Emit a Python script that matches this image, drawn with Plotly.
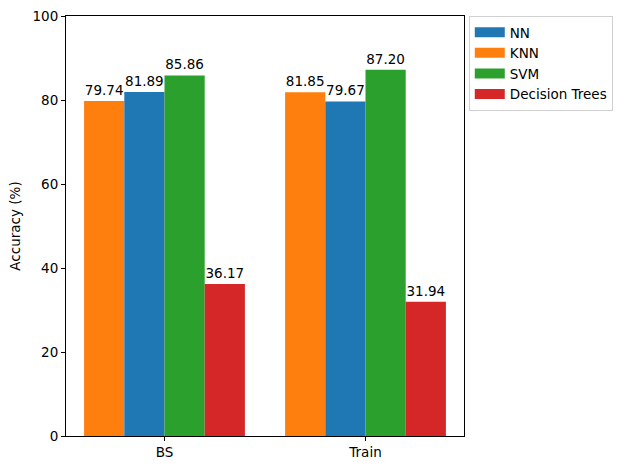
import plotly.graph_objects as go

categories = ["BS", "Train"]
nn = [81.89, 79.67]
knn = [79.74, 81.85]
svm = [85.86, 87.20]
dt = [36.17, 31.94]
y_ticks = [0, 20, 40, 60, 80, 100]

font = "DejaVu Sans"
fs = 13.5
series = [
    ("KNN", knn, "#ff7f0e", 2),
    ("NN", nn, "#1f77b4", 1),
    ("SVM", svm, "#2ca02c", 3),
    ("Decision Trees", dt, "#d62728", 4),
]

fig = go.Figure()
for name, vals, color, rank in series:
    fig.add_trace(go.Bar(
        x=categories, y=vals, name=name, marker_color=color, marker_line_width=0,
        text=[f"{v:.2f}" for v in vals], textposition="outside", cliponaxis=False,
        textfont=dict(family=font, size=fs, color="black"), showlegend=False,
    ))
for name, vals, color, rank in series:
    fig.add_trace(go.Scatter(
        x=[None], y=[None], mode="lines", name=name,
        line=dict(color=color, width=10), legendrank=rank, showlegend=True,
    ))

fig.update_layout(
    width=629, height=470, barmode="group", bargap=0.2, bargroupgap=0,
    plot_bgcolor="white", paper_bgcolor="white",
    margin=dict(l=66, r=165, t=16, b=34, autoexpand=False),
    font=dict(family=font, size=fs, color="black"),
    legend=dict(x=1.012, y=1, xanchor="left", yanchor="top",
                bordercolor="#d0d0d0", borderwidth=1, font=dict(size=fs),
                tracegroupgap=0, entrywidth=150, entrywidthmode="pixels"),
)
fig.update_xaxes(range=[-0.49, 1.49], showline=True, linecolor="black", linewidth=1,
                 mirror=True, ticks="outside", ticklen=4, tickcolor="black",
                 showgrid=False, automargin=False)
fig.update_yaxes(range=[0, 100], tickvals=y_ticks, showline=True, linecolor="black",
                 linewidth=1, mirror=True, ticks="outside", ticklen=4, tickcolor="black",
                 showgrid=False, zeroline=False, automargin=False,
                 title=dict(text="Accuracy (%)", font=dict(size=fs), standoff=8))

fig.write_html("out.html", config={"displayModeBar": False},
               post_script="document.body.style.margin='0px';")
